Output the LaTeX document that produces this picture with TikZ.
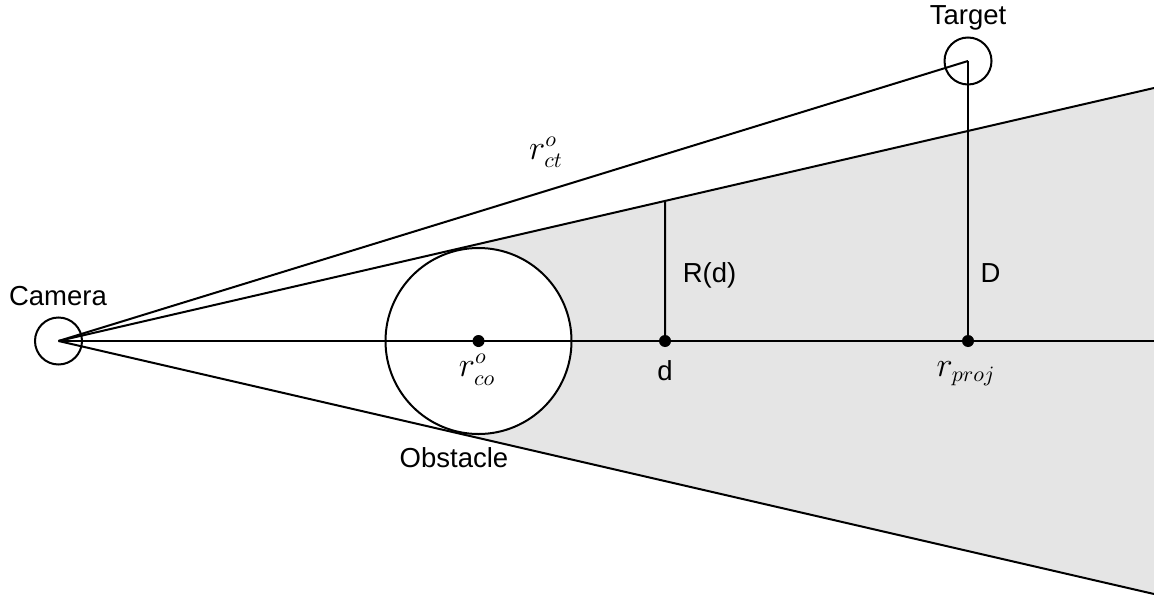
\documentclass[tikz,border=0pt]{standalone}
\usepackage[no-math]{fontspec}
\setmainfont{Liberation Sans}
\usetikzlibrary{calc}
\begin{document}
\begin{tikzpicture}[x=0.5pt,y=-0.5pt,line width=1pt,
  lbl/.style={font=\fontsize{13.75}{16}\selectfont, inner sep=0pt, anchor=base},
  mlbl/.style={font=\fontsize{16}{19}\selectfont, inner sep=0pt, anchor=base},
  dotpt/.style={circle, fill=black, inner sep=0pt, minimum size=6pt},
  ring/.style={circle, draw=black, inner sep=0pt}]
\useasboundingbox (0,0) rectangle (1154,599);
\coordinate (c) at (58.5,341);
\coordinate (o) at (478.5,341);
\coordinate (t) at (968,61);
\coordinate (e1) at (1154,88);
\coordinate (e2) at (1154,594);
\coordinate (e3) at (1154,341);
\coordinate (tp1) at ($(c)!(o)!(e1)$);
\coordinate (tp2) at ($(c)!(o)!(e2)$);
\coordinate (dpt) at (665,341);
\coordinate (rtop) at ($(c)!{(665-58.5)/1095.5}!(e1)$);
\coordinate (rp) at (968,341);
% shaded region
\fill[black!10] (tp1) -- (e1) -- (e2) -- (tp2) -- cycle;
% circles
\node[ring, fill=white, minimum size=93pt] (obs) at (o) {};
\node[ring, minimum size=23.5pt] (cam) at (c) {};
\node[ring, minimum size=23.5pt] (tgt) at (t) {};
% lines
\draw (cam.center) -- (e1);
\draw (cam.center) -- (e2);
\draw (cam.center) -- (e3);
\draw (cam.center) -- (tgt.center);
\draw (tgt.center) -- (rp);
\draw (rtop) -- (dpt);
% dots
\node[dotpt] (od) at (o) {};
\node[dotpt] (dd) at (dpt) {};
\node[dotpt] (pd) at (rp) {};
% labels
\node[lbl] (camlbl) at (58,305) {Camera};
\node[lbl] (tgtlbl) at (968,25) {Target};
\node[lbl] (obslbl) at (454,467) {Obstacle};
\node[lbl] (rdlbl) at (709.5,282) {R(d)};
\node[lbl] (dlbl) at (665,380) {d};
\node[lbl] (Dlbl) at (990.5,282) {D};
\node[mlbl] (rproj) at (966,376) {$r_{proj}$};
\node[mlbl] (rco) at (477,376.5) {$r^{o}_{co}$};
\node[mlbl] (rct) at (546,159) {$r^{o}_{ct}$};
\end{tikzpicture}
\end{document}
